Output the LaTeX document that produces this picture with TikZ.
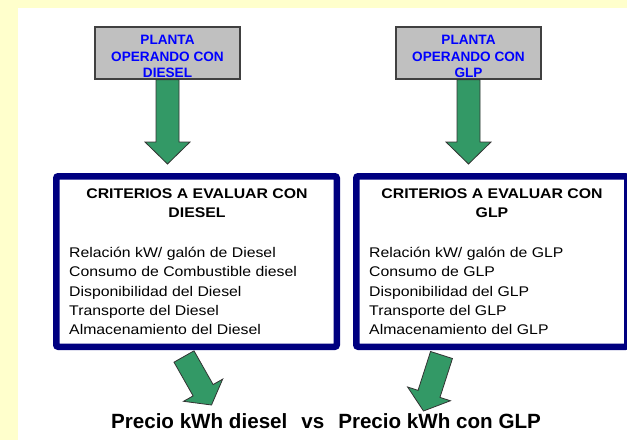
\documentclass[tikz,border=0pt]{standalone}
\usepackage{fontspec}
\setmainfont{Liberation Sans}
\newfontfamily\widesans[FakeStretch=1.13]{Liberation Sans}
\usetikzlibrary{calc}
\definecolor{pagebg}{RGB}{255,255,204}
\definecolor{plantgray}{RGB}{192,192,192}
\definecolor{critblue}{RGB}{0,0,128}
\definecolor{arrowgreen}{RGB}{51,153,102}
\tikzset{
  plantbox/.style={draw=black!75, line width=1.2pt, fill=plantgray, minimum width=145pt, minimum height=52pt, inner sep=0pt},
  planttext/.style={text=blue, align=center, inner sep=0pt, font=\bfseries\fontsize{13.6}{16.5}\selectfont},
  critbox/.style={draw=critblue, line width=6.5pt, fill=white, rounded corners=2pt, minimum height=170.5pt, inner sep=0pt},
  crittitle/.style={align=center, inner sep=0pt, font=\widesans\bfseries\fontsize{14}{19}\selectfont},
  critlist/.style={align=left, anchor=north west, inner sep=0pt, font=\widesans\fontsize{14}{19.25}\selectfont},
  fatarrow/.style={draw=black!80, line width=0.8pt, fill=arrowgreen, line join=miter},
}
% tail, tip, head length
\newcommand{\blockarrow}[3]{%
  \coordinate (ba-s) at (#1);
  \coordinate (ba-e) at (#2);
  \coordinate (ba-h) at ($(ba-e)!#3!(ba-s)$);
  \draw[fatarrow] ($(ba-s)!11.5pt!90:(ba-e)$) -- ($(ba-h)!11.5pt!90:(ba-e)$) -- ($(ba-h)!22.5pt!90:(ba-e)$) -- (ba-e) -- ($(ba-h)!22.5pt!-90:(ba-e)$) -- ($(ba-h)!11.5pt!-90:(ba-e)$) -- ($(ba-s)!11.5pt!-90:(ba-e)$) -- cycle;
}
\begin{document}
\begin{tikzpicture}[x=1pt, y=-1pt]
\useasboundingbox (0,0) rectangle (627,440);
\clip (0,0) rectangle (627,440);
\fill[pagebg] (0,0) rectangle (627,440);
\fill[white] (18,8) rectangle (627,440);
% plantas
\node[plantbox] (dplant) at (167.5,53){};
\node[plantbox] (gplant) at (468.5,53){};
% criterios
\node[critbox, minimum width=280.5pt] (dcrit) at (196.5,261.5){};
\node[critbox, minimum width=271pt] (gcrit) at (491.75,261.5){};
% flechas
\coordinate (dtip) at ($(dplant.south |- dcrit.north)+(0,-9)$);
\coordinate (gtip) at ($(gplant.south |- gcrit.north)+(0,-9)$);
\blockarrow{dplant.south}{dtip}{22pt}
\blockarrow{gplant.south}{gtip}{22pt}
\coordinate (dtail) at (184,356.5);
\coordinate (dend) at (211.5,405);
\coordinate (gtail) at (441.5,355);
\coordinate (gend) at (423.5,411);
\blockarrow{dtail}{dend}{17pt}
\blockarrow{gtail}{gend}{18pt}
% textos
\node[planttext] (dplanttxt) at ($(dplant.center)+(0,3.5)$){PLANTA\\OPERANDO CON\\DIESEL};
\node[planttext] (gplanttxt) at ($(gplant.center)+(0,3.5)$){PLANTA\\OPERANDO CON\\GLP};
\node[crittitle] (dtitle) at (197,203.5){CRITERIOS A EVALUAR CON\\DIESEL};
\node[crittitle] (gtitle) at (492,203.5){CRITERIOS A EVALUAR CON\\GLP};
\node[critlist] (dlist) at (69,247){Relación kW/ galón de Diesel\\Consumo de Combustible diesel\\Disponibilidad del Diesel\\Transporte del Diesel\\Almacenamiento del Diesel};
\node[critlist] (glist) at (369,247){Relación kW/ galón de GLP\\Consumo de GLP\\Disponibilidad del GLP\\Transporte del GLP\\Almacenamiento del GLP};
\node[font=\bfseries\fontsize{20.6}{24}\selectfont, inner sep=0pt] (precio) at (326,421.5){Precio kWh diesel\hspace{14pt}vs\hspace{14pt}Precio kWh con GLP};
\end{tikzpicture}
\end{document}
